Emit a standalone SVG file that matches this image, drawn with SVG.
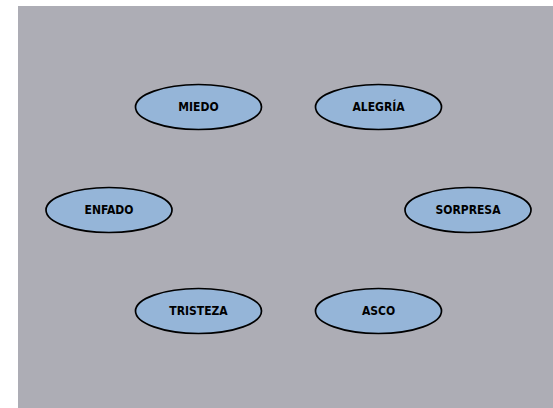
<svg xmlns="http://www.w3.org/2000/svg" width="553" height="408" viewBox="0 0 553 408">
<style>
.n ellipse{fill:#95b5d8;stroke:#000;stroke-width:1.7}
.n text{font-family:"DejaVu Sans Condensed","DejaVu Sans",Verdana,sans-serif;font-weight:bold;font-size:12px;fill:#000;text-anchor:middle;dominant-baseline:central}
</style>
<rect width="553" height="408" fill="#fff"/>
<rect x="18" y="6" width="535" height="402" fill="#adadb5"/>
<g id="connectors"></g>
<g id="miedo" class="n"><ellipse cx="198.5" cy="107" rx="63" ry="22.5"/><text x="198.5" y="107">MIEDO</text></g>
<g id="alegria" class="n"><ellipse cx="378.5" cy="107" rx="63" ry="22.5"/><text x="378.5" y="107">ALEGRÍA</text></g>
<g id="enfado" class="n"><ellipse cx="109" cy="210" rx="63" ry="22.5"/><text x="109" y="210">ENFADO</text></g>
<g id="sorpresa" class="n"><ellipse cx="468" cy="210" rx="63" ry="22.5"/><text x="468" y="210">SORPRESA</text></g>
<g id="tristeza" class="n"><ellipse cx="198.5" cy="311" rx="63" ry="22.5"/><text x="198.5" y="311">TRISTEZA</text></g>
<g id="asco" class="n"><ellipse cx="378.5" cy="311" rx="63" ry="22.5"/><text x="378.5" y="311">ASCO</text></g>
</svg>
